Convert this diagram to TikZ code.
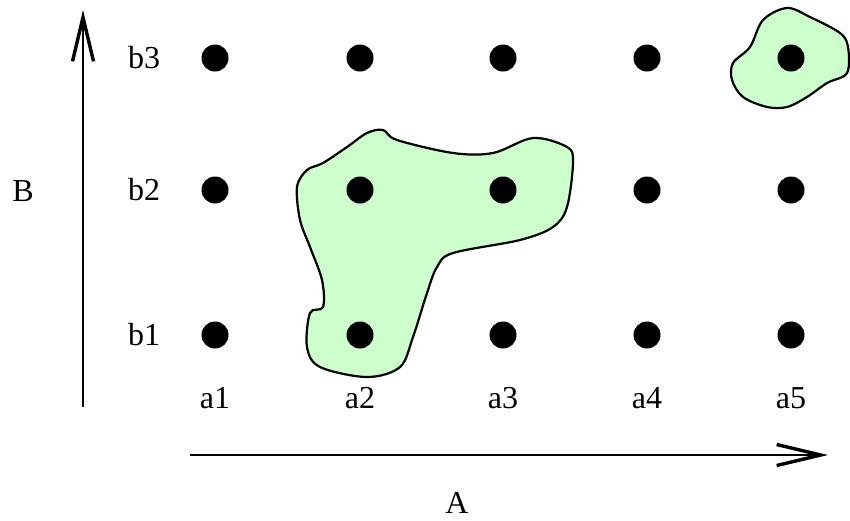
\documentclass[tikz,border=0pt]{standalone}
\usepackage{fontspec}
\setmainfont{Liberation Serif}
\usepackage{tikz}
\usetikzlibrary{arrows.meta,positioning,calc}
\usepackage{xcolor}
\definecolor{blobgreen}{HTML}{CCFFCC}

\begin{document}
\begin{tikzpicture}[x=1pt, y=-1pt,
    dot/.style={circle, fill=black, inner sep=0pt, minimum size=27pt},
    lab/.style={font=\fontsize{32}{36}\selectfont, inner sep=0pt},
    axis/.style={line width=1.6pt, -{Straight Barb[length=44pt, width=21pt, line width=3.4pt]}},
    blob/.style={line width=2.2pt, draw=black, fill=blobgreen}]
  \useasboundingbox (0,0) rectangle (850,520);
  % regions
  \draw[blob] plot[smooth cycle, tension=0.55] coordinates {
    (383,130) (397,140) (453,153) (493,153) (533,138) (567,147) (573,162)
    (567,207) (553,227) (520,240) (453,253) (437,267) (427,293) (413,337)
    (400,367) (367,377) (320,367) (307,347) (310,313) (323,307) (322,280)
    (310,247) (300,220) (297,187) (307,170) (323,163) (347,147) (367,133)};
  \draw[blob] plot[smooth cycle, tension=0.55] coordinates {
    (787,8) (810,17) (840,33) (848,47) (847,73) (827,83) (807,97)
    (787,107) (767,107) (743,97) (732,80) (733,63) (750,47) (763,20)};
  % grid points
  \foreach \i/\x in {1/215,2/360,3/503,4/647,5/791} {
    \foreach \j/\y in {1/335,2/190,3/58}
      \node[dot] (d\i\j) at (\x,\y) {};
    \node[lab] (a\i) at (\x,398) {a\i};
  }
  \foreach \j/\y in {1/335,2/190,3/58}
    \node[lab] (b\j) at (144,\y) {b\j};
  % axes
  \coordinate (Bbot) at (83,407);
  \coordinate (Btop) at (83,10);
  \coordinate (Aleft) at (190,455);
  \coordinate (Aright) at (828,455);
  \draw[axis] (Bbot) -- (Btop);
  \draw[axis] (Aleft) -- (Aright);
  \node[lab] (Blab) at (23,191) {B};
  \node[lab] (Alab) at (457,503) {A};
\end{tikzpicture}
\end{document}
